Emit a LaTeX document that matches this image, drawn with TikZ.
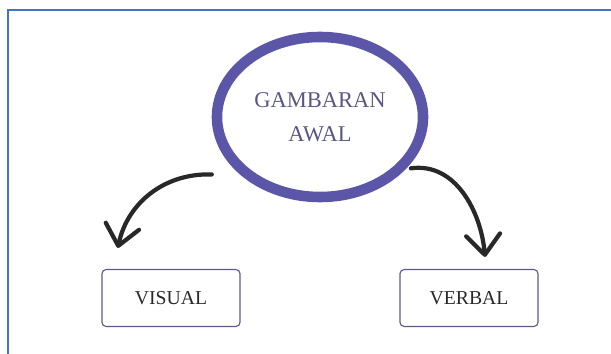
\documentclass[tikz,border=0pt]{standalone}
\usepackage{fontspec}
\setmainfont{Liberation Serif}
\usetikzlibrary{shapes.geometric,arrows.meta}

\definecolor{frameblue}{RGB}{68,114,196}
\definecolor{ringpurple}{RGB}{91,86,168}
\definecolor{titlegray}{RGB}{88,86,132}
\definecolor{boxline}{RGB}{92,90,140}
\definecolor{inkdark}{RGB}{40,40,40}

\begin{document}
\begin{tikzpicture}[
    x=0.025cm, y=0.025cm,
    frame/.style={draw=frameblue, line width=1.6pt},
    ring/.style={ellipse, draw=ringpurple, line width=7.5pt, minimum width=5.15cm, minimum height=4cm,
                 align=center, text=titlegray, font=\fontsize{16}{24}\selectfont},
    choice/.style={rectangle, rounded corners=3pt, draw=boxline, line width=0.8pt,
                   minimum width=3.45cm, minimum height=1.425cm, text=inkdark, font=\fontsize{14}{16}\selectfont},
    link/.style={draw=inkdark, line width=3pt, line cap=round,
                 -{Straight Barb[length=5mm, width=8.5mm, round]}}
]
\useasboundingbox (0,0) rectangle (611,354);

% Frame on the top and left edges
\draw[frame] (8,0) -- (8,344) -- (611,344);

% Define nodes
\node[ring] (gambaran) at (320,237) {GAMBARAN\\AWAL};
\node[choice] (visual) at (171,56) {VISUAL};
\node[choice] (verbal) at (469,56) {VERBAL};

% Define arrows
\path[link] ([shift={(-0.375cm,-0.35cm)}]gambaran.205) to[out=178, in=78] ([shift={(-1.33cm,0.525cm)}]visual.north);
\path[link] ([yshift=-0.125cm]gambaran.333) to[out=8, in=95] ([shift={(0.4cm,0.3cm)}]verbal.north);

\end{tikzpicture}
\end{document}
